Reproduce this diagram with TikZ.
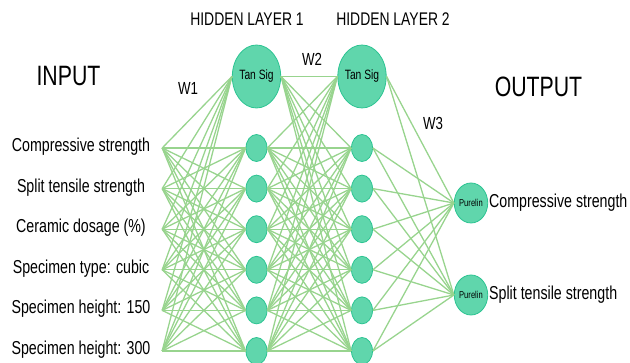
\documentclass[tikz,border=0pt]{standalone}
\usepackage{fontspec}
\setmainfont{Liberation Sans}[FakeStretch=0.76]
\usetikzlibrary{automata, shapes.geometric}

\definecolor{nodefill}{RGB}{96,214,172}
\definecolor{nodeline}{RGB}{44,196,146}
\definecolor{wire}{RGB}{152,212,142}

\begin{document}
\begin{tikzpicture}[
            x = 1pt, y = -1pt, % one unit = one pixel of the figure
            every edge/.style = {draw = wire, line width = 1.3pt}, % connector style
            lbl/.style = {inner sep = 0pt, text height = 0.716em, text depth = 0pt},
%            semithick % line style
        ]
        \useasboundingbox (0,0) rectangle (630,363);

        \node[lbl, font=\fontsize{28}{30}\selectfont] (input) at (68.5,82) {INPUT};
        \node[lbl, font=\fontsize{28}{30}\selectfont] (output) at (538.5,92.5) {OUTPUT};
        \node[lbl, font=\fontsize{18.3}{20}\selectfont] (hl1) at (247,22) {HIDDEN LAYER 1};
        \node[lbl, font=\fontsize{18.3}{20}\selectfont] (hl2) at (393,22) {HIDDEN LAYER 2};
        \node[lbl, font=\fontsize{17.5}{20}\selectfont] (w1) at (188,91) {W1};
        \node[lbl, font=\fontsize{17.5}{20}\selectfont] (w2) at (312,62) {W2};
        \node[lbl, font=\fontsize{17.5}{20}\selectfont] (w3) at (433,126) {W3};

        \foreach \x/\t in {1/Compressive strength, 2/Split tensile strength,
                3/Ceramic dosage (\%), 4/Specimen type: cubic,
                5/Specimen height: 150, 6/Specimen height: 300}
            \node[lbl, minimum width=162, font=\fontsize{18.7}{21}\selectfont]
                (i\x) at (81,{148+40.6*(\x-1)}) {\t};

        \tikzstyle{every state}=[
            ellipse,
            draw = nodeline,
            thick,
            fill = nodefill,
            minimum width = 46,
            minimum height = 63,
            inner sep = 0pt,
            font = \fontsize{13.5}{14}\selectfont
        ]

        \node[state] (j0) at (256.5,76.5) {Tan Sig};
        \node[state] (k0) at (362,76.5) {Tan Sig};

        \tikzstyle{every state}=[
            ellipse,
            draw = nodeline,
            thick,
            fill = nodefill,
            minimum width = 21,
            minimum height = 27,
            inner sep = 0pt
        ]

        \foreach \x in {1,...,6} {
            \node[state] (j\x) at (256.5,{148+40.6*(\x-1)}) {};
            \node[state] (k\x) at (362,{148+40.6*(\x-1)}) {};
        }

        \tikzstyle{every state}=[
            ellipse,
            draw = nodeline,
            thick,
            fill = nodefill,
            minimum width = 30,
            minimum height = 40,
            inner sep = 0pt,
            font = \fontsize{10}{10}\selectfont
        ]

        \node[state] (l1) at (471,203) {Purelin};
        \node[state] (l2) at (471,295) {Purelin};

        \node[lbl, anchor=west, font=\fontsize{18.7}{21}\selectfont] (o1) at (489,203.5) {Compressive strength};
        \node[lbl, anchor=west, font=\fontsize{18.7}{21}\selectfont] (o2) at (489,295.5) {Split tensile strength};

        \foreach \x in {1,...,6}
            \foreach \y in {0,...,6}
                \path (i\x.east) edge (j\y.west);

        \foreach \x in {0,...,6}
            \foreach \y in {0,...,6}
                \path (j\x.east) edge (k\y.west);

        \foreach \x in {0,...,6}
            \foreach \y in {1,2}
                \path (k\x.east) edge (l\y.west);
    \end{tikzpicture}
\end{document}
